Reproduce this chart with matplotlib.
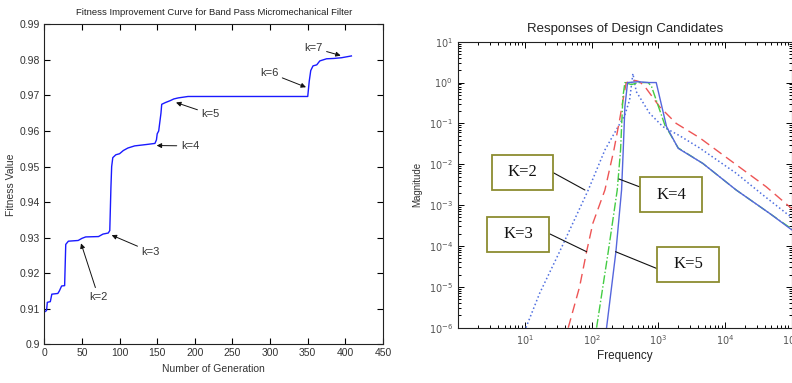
import numpy as np
import matplotlib
matplotlib.use("Agg")
import matplotlib.pyplot as plt
from matplotlib.patches import Rectangle
from matplotlib.ticker import FixedLocator, LogLocator, NullFormatter

# left chart: best fitness per generation
gen = [1, 3, 4, 8, 10, 18, 20, 23, 27, 28.5, 32, 45, 50, 55, 72, 78, 85, 87,
       88.5, 89.5, 91, 95, 100, 105, 111, 120, 136, 147, 149, 150, 152, 153,
       155, 156, 161, 167, 172, 178, 191, 350, 352, 354, 357, 362, 366, 375,
       385, 395, 408]
fitness = [0.9092, 0.9095, 0.9118, 0.9120, 0.9141, 0.9143, 0.9150, 0.9164,
           0.9165, 0.9281, 0.9290, 0.9292, 0.9298, 0.9302, 0.9303, 0.9310,
           0.9313, 0.9320, 0.9440, 0.9500, 0.9525, 0.9533, 0.9536, 0.9545,
           0.9552, 0.9558, 0.9562, 0.9565, 0.9575, 0.9592, 0.9600, 0.9617,
           0.9650, 0.9675, 0.9680, 0.9685, 0.9690, 0.9693, 0.9697, 0.9697,
           0.9740, 0.9770, 0.9783, 0.9786, 0.9797, 0.9803, 0.9804, 0.9806,
           0.9811]

k_labels = ["k=2", "k=3", "k=4", "k=5", "k=6", "k=7"]
k_text = [(71.8, 0.9134), (141.4, 0.9260), (193.6, 0.9558), (221.0, 0.9647),
          (298.6, 0.9764), (357.5, 0.9834)]
k_head = [(48.8, 0.9284), (89.5, 0.9307), (149.3, 0.9559), (175.0, 0.9680),
          (347.7, 0.9723), (393.8, 0.9812)]

# right chart: responses, log10(frequency) and log10(magnitude)
k2_lf = [1.015, 1.22, 1.52, 1.95, 2.2, 2.3, 2.5, 2.57, 2.62, 2.67, 2.87, 3.07,
         3.32, 3.62, 4.17, 4.57, 5.0]
k2_lm = [-6, -5.16, -4.14, -2.63, -1.65, -1.36, -0.79, -0.43, 0.22, -0.22,
         -0.75, -1.08, -1.3, -1.6, -2.22, -2.75, -3.3]
k3_lf = [1.65, 1.82, 1.925, 2.02, 2.2, 2.335, 2.42, 2.48, 2.52, 2.6, 2.66,
         2.72, 2.8, 3.02, 3.27, 3.62, 4.12, 4.62, 5.0]
k3_lm = [-6, -5.0, -4.14, -3.44, -2.63, -1.65, -0.92, -0.35, 0.0, 0.02, 0.05,
         0.02, -0.1, -0.59, -1.0, -1.35, -1.95, -2.55, -3.08]
k4_lf = [2.075, 2.25, 2.385, 2.435, 2.47, 2.5, 2.6, 2.7, 2.85, 2.9, 3.1, 3.3,
         3.67, 4.17, 4.67, 5.0]
k4_lm = [-6, -4.14, -2.63, -1.65, -0.35, 0.0, -0.05, 0.0, 0.0, -0.1, -1.04,
         -1.6, -1.98, -2.63, -3.2, -3.58]
k5_lf = [2.225, 2.365, 2.45, 2.475, 2.5, 2.54, 2.7, 2.85, 2.97, 3.125, 3.3,
         3.67, 4.17, 4.67, 5.0]
k5_lm = [-6, -4.14, -2.63, -1.65, -0.59, 0.0, 0.02, 0.0, 0.0, -1.08, -1.61,
         -1.98, -2.63, -3.2, -3.6]

box_labels = ["K=2", "K=4", "K=3", "K=5"]
box_targets = [(1.9, -2.63), (2.41, -2.36), (1.925, -4.14), (2.36, -4.14)]

W, H = 792, 383
fig = plt.figure(figsize=(W / 100, H / 100), dpi=100)
sans = ["Liberation Sans Narrow", "Liberation Sans", "DejaVu Sans"]


def fxy(px, py):
    # pixel (from top-left) -> figure fraction
    return px / W, 1 - py / H


# ---------------- left chart ----------------
ax1 = fig.add_axes([44.3 / W, 1 - 344.3 / H, (383 - 44.3) / W, 320 / H])
ax1.plot(gen, fitness, color="#1a1aff", lw=1.0)
ax1.set_xlim(0, 450)
ax1.set_ylim(0.9, 0.99)
ax1.xaxis.set_major_locator(FixedLocator(np.arange(0, 451, 50)))
ax1.set_yticks(np.round(np.arange(0.9, 0.9901, 0.01), 2))
ax1.set_yticklabels([("%.2f" % v).rstrip("0") for v in np.arange(0.9, 0.9901, 0.01)])
ax1.tick_params(direction="in", top=True, right=True, length=4, width=0.8,
                labelsize=7.5, labelcolor="#333333", pad=3)
for lab in ax1.get_xticklabels() + ax1.get_yticklabels():
    lab.set_family(sans)
for s in ax1.spines.values():
    s.set_linewidth(0.8)
    s.set_color("#222222")
ax1.set_title("Fitness Improvement Curve for Band Pass Micromechanical Filter",
              family=sans, fontsize=6.8, color="#222222", pad=7)
ax1.set_xlabel("Number of Generation", family=sans, fontsize=7.5, color="#333333",
               labelpad=4)
ax1.set_ylabel("Fitness Value", family=sans, fontsize=7.5, color="#333333")
ax1.yaxis.set_label_coords(-0.085, 0.5)

for lab, t, h in zip(k_labels, k_text, k_head):
    ax1.annotate(lab, xy=h, xytext=t, ha="center", va="center",
                 family=sans, fontsize=8, color="#333333",
                 arrowprops=dict(arrowstyle="-|>", color="#111111", lw=0.7,
                                 mutation_scale=7, shrinkA=1, shrinkB=0))

# ---------------- right chart ----------------
ax2 = fig.add_axes([458.3 / W, 1 - 327.7 / H, (791.5 - 458.3) / W, 286 / H])
ax2.set_xscale("log")
ax2.set_yscale("log")
ax2.plot(10 ** np.array(k2_lf), 10 ** np.array(k2_lm), ":", color="#4f6fe0", lw=1.1)
ax2.plot(10 ** np.array(k3_lf), 10 ** np.array(k3_lm), color="#ee5555", lw=1.0,
         dashes=(7, 4))
ax2.plot(10 ** np.array(k4_lf), 10 ** np.array(k4_lm), "-.", color="#44cc44", lw=1.0)
ax2.plot(10 ** np.array(k5_lf), 10 ** np.array(k5_lm), "-", color="#5566dd", lw=1.0)
ax2.set_xlim(1, 1e5)
ax2.set_ylim(1e-6, 10)
ax2.xaxis.set_major_locator(LogLocator(base=10, numticks=10))
ax2.xaxis.set_minor_locator(LogLocator(base=10, subs=np.arange(2, 10), numticks=20))
ax2.yaxis.set_major_locator(LogLocator(base=10, numticks=10))
ax2.yaxis.set_minor_locator(LogLocator(base=10, subs=np.arange(2, 10), numticks=20))
ax2.xaxis.set_minor_formatter(NullFormatter())
ax2.yaxis.set_minor_formatter(NullFormatter())
ax2.set_xticks([10, 100, 1e3, 1e4, 1e5])
ax2.tick_params(which="both", direction="in", top=True, right=True, width=0.7,
                labelsize=7, labelcolor="#555555", pad=4)
ax2.tick_params(which="major", length=4)
ax2.tick_params(which="minor", length=2)
for s in ax2.spines.values():
    s.set_linewidth(0.8)
    s.set_color("#222222")
ax2.set_title("Responses of Design Candidates", family=sans, fontsize=9.5,
              color="#222222", pad=7)
ax2.set_xlabel("Frequency", family=sans, fontsize=8.5, color="#222222", labelpad=2)
ax2.set_ylabel("Magnitude", family=sans, fontsize=7, color="#333333")
ax2.yaxis.set_label_coords(-0.107, 0.5)

# boxed labels, pixel positions (x0, x1, y0, y1) and line start points
boxes = [(492, 553, 155, 190), (640, 702, 177, 212),
         (487, 549, 217, 252), (657, 719, 247, 282)]
starts = [(552, 172), (640, 187), (550, 234), (658, 269)]
for lab, (x0, x1, y0, y1), st, tg in zip(box_labels, boxes, starts, box_targets):
    bx, by = fxy(x0, y1)
    fig.patches.append(Rectangle((bx, by), (x1 - x0) / W, (y1 - y0) / H,
                                 transform=fig.transFigure, fill=True,
                                 facecolor="white", edgecolor="#8c8c30", lw=1.3,
                                 zorder=5))
    cx, cy = fxy((x0 + x1) / 2, (y0 + y1) / 2)
    fig.text(cx, cy, lab, ha="center", va="center", fontsize=12,
             family=["Liberation Serif", "DejaVu Serif"], color="#111111",
             zorder=6)
    ax2.annotate("", xy=(10 ** tg[0], 10 ** tg[1]), xycoords="data",
                 xytext=fxy(*st), textcoords="figure fraction",
                 arrowprops=dict(arrowstyle="-", color="#111111", lw=0.8,
                                 shrinkA=0, shrinkB=0))

fig.savefig("out.png", dpi=100)
